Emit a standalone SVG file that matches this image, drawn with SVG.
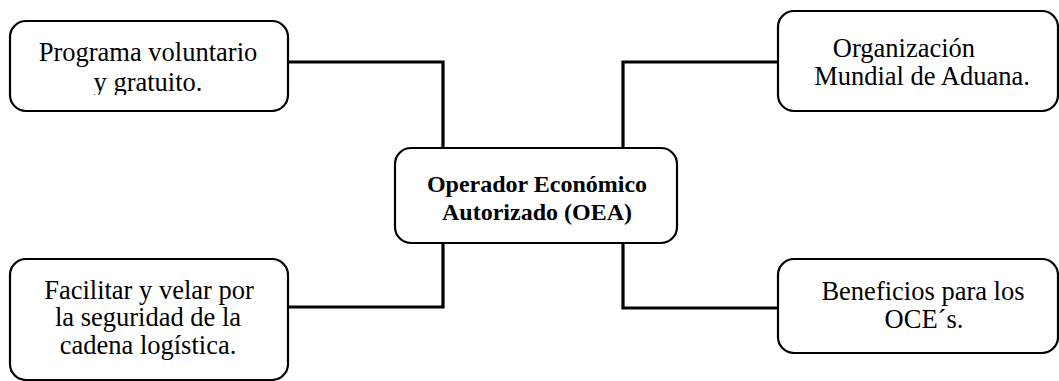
<svg xmlns="http://www.w3.org/2000/svg" width="1059" height="381" viewBox="0 0 1059 381">
<style>
.box{fill:#fff;stroke:#000;stroke-width:2.2}
.t{font-family:"Liberation Serif","Times New Roman",serif;font-size:26.5px;fill:#000;text-anchor:middle}
.b{font-family:"Liberation Serif","Times New Roman",serif;font-size:24px;font-weight:bold;fill:#000;text-anchor:middle}
.c{fill:none;stroke:#000;stroke-width:3.2;stroke-linejoin:miter}
</style>
<defs><clipPath id="clipTL"><rect x="0" y="0" width="300" height="95"/></clipPath></defs>
<rect width="1059" height="381" fill="#fff"/>
<g id="connectors">
<path class="c" d="M288 62 H443 V148"/>
<path class="c" d="M778 62 H623 V148"/>
<path class="c" d="M288 307 H443 V243"/>
<path class="c" d="M778 308 H623 V243"/>
</g>
<g id="center">
<rect class="box" x="395" y="148" width="282" height="95" rx="16"/>
<text class="b" x="537" y="192">Operador Económico</text>
<text class="b" x="537" y="220">Autorizado (OEA)</text>
</g>
<g id="topLeft">
<rect class="box" x="10" y="21" width="278" height="90" rx="16"/>
<g clip-path="url(#clipTL)">
<text class="t" x="148" y="61">Programa voluntario</text>
<text class="t" x="148" y="91">y gratuito.</text>
</g>
</g>
<g id="topRight">
<rect class="box" x="778" y="11" width="280" height="100" rx="16"/>
<text class="t" x="904" y="57">Organización</text>
<text class="t" x="922" y="85">Mundial de Aduana.</text>
</g>
<g id="bottomLeft">
<rect class="box" x="10" y="259" width="278" height="121" rx="16"/>
<text class="t" x="149" y="299">Facilitar y velar por</text>
<text class="t" x="148" y="326">la seguridad de la</text>
<text class="t" x="148" y="354">cadena logística.</text>
</g>
<g id="bottomRight">
<rect class="box" x="778" y="259" width="280" height="94" rx="16"/>
<text class="t" x="923" y="300">Beneficios para los</text>
<text class="t" x="924" y="328">OCE´s.</text>
</g>
</svg>
